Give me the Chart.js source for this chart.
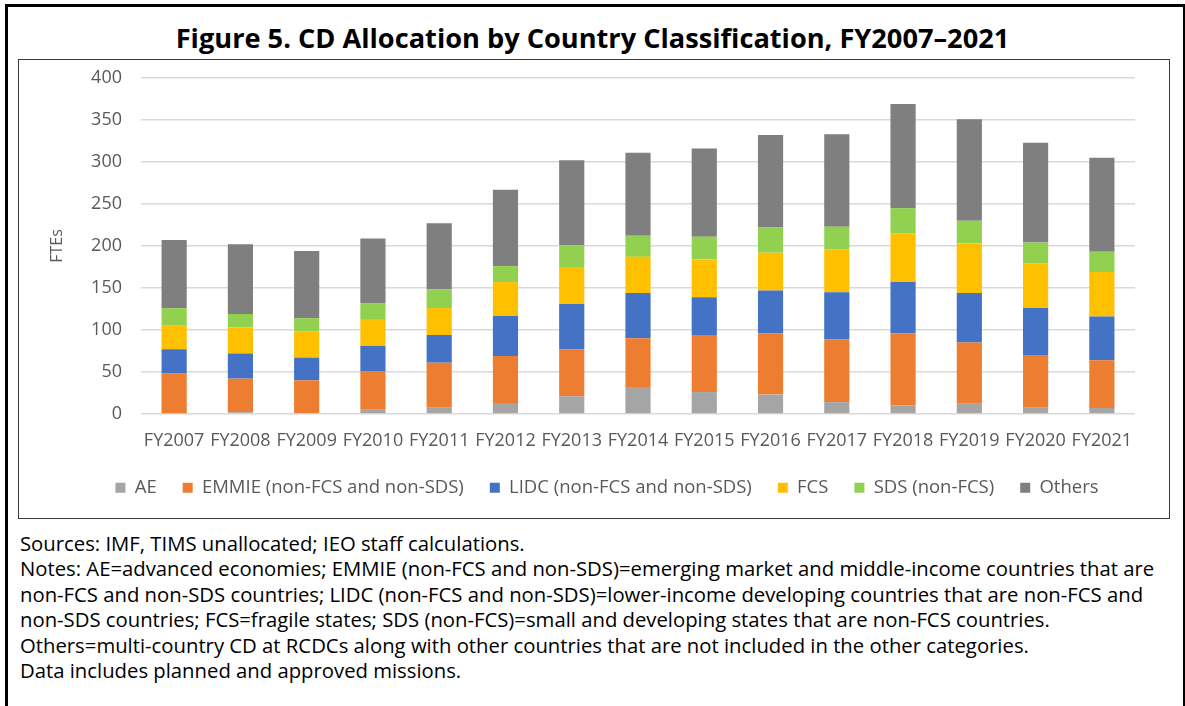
<!DOCTYPE html>
<html>
<head>
<meta charset="utf-8">
<script src="https://cdn.jsdelivr.net/npm/chart.js@4.4.1/dist/chart.umd.min.js"></script>
<style>
  body { margin: 0; background: #fff; font-family: 'Open Sans', sans-serif; }
  #frame { position: absolute; left: 5px; top: 4px; width: 1175px; height: 720px;
           border: 3px solid #000; border-bottom: none; }
  #title { position: absolute; left: 0; top: 19px; width: 1185px; text-align: center;
           font-weight: bold; font-size: 27.2px; line-height: 38px; color: #000; }
  #box { position: absolute; left: 18px; top: 59px; width: 1150px; height: 458px;
         border: 1px solid #3a3a3a; }
  #notes { position: absolute; left: 20px; top: 531px; font-size: 20.3px; line-height: 25.4px;
           color: #000; white-space: nowrap; }
</style>
</head>
<body>
<div id="frame"></div>
<div id="title">Figure 5. CD Allocation by Country Classification, FY2007–2021</div>
<div id="box"><canvas id="chart" width="1150" height="458"></canvas></div>
<div id="notes">
Sources: IMF, TIMS unallocated; IEO staff calculations.<br>
Notes: AE=advanced economies; EMMIE (non-FCS and non-SDS)=emerging market and middle-income countries that are<br>
non-FCS and non-SDS countries; LIDC (non-FCS and non-SDS)=lower-income developing countries that are non-FCS and<br>
non-SDS countries; FCS=fragile states; SDS (non-FCS)=small and developing states that are non-FCS countries.<br>
Others=multi-country CD at RCDCs along with other countries that are not included in the other categories.<br>
Data includes planned and approved missions.
</div>
<script>
// values (FTEs)
const years = ['FY2007', 'FY2008', 'FY2009', 'FY2010', 'FY2011', 'FY2012', 'FY2013', 'FY2014',
               'FY2015', 'FY2016', 'FY2017', 'FY2018', 'FY2019', 'FY2020', 'FY2021'];
const ae     = [0, 2, 0, 5, 8, 13, 21, 32, 26, 23, 14, 10, 12, 8, 7];
const emmie  = [48, 40, 40, 46, 53, 56, 56, 58, 67, 73, 75, 86, 73, 62, 57];
const lidc   = [29, 30, 27, 30, 33, 48, 54, 54, 46, 51, 56, 61, 59, 56, 52];
const fcs    = [28, 31, 31, 31, 32, 40, 43, 43, 45, 45, 51, 58, 59, 53, 53];
const sds    = [21, 16, 16, 20, 22, 19, 27, 25, 27, 30, 27, 30, 27, 25, 24];
const others = [81, 83, 80, 77, 79, 91, 101, 99, 105, 110, 110, 124, 121, 119, 112];

Chart.defaults.font.family = "'Open Sans', sans-serif";
Chart.defaults.color = '#595959';

function series(label, data, color) {
    return { label: label, data: data, backgroundColor: color, borderWidth: 0,
             categoryPercentage: 1, barPercentage: 0.38 };
}

// the legend in the original sits a bit right of the canvas centre
const legendShift = {
    id: 'legendShift',
    afterLayout(chart) {
        chart.legend.left += 30;
        chart.legend.right += 30;
    }
};

new Chart(document.getElementById('chart'), {
    type: 'bar',
    data: {
        labels: years,
        datasets: [
            series('AE', ae, '#a5a5a5'),
            series('EMMIE (non-FCS and non-SDS)', emmie, '#ed7d31'),
            series('LIDC (non-FCS and non-SDS)', lidc, '#4472c4'),
            series('FCS', fcs, '#ffc000'),
            series('SDS (non-FCS)', sds, '#92d050'),
            series('Others', others, '#7f7f7f')
        ]
    },
    plugins: [legendShift],
    options: {
        responsive: false,
        animation: false,
        layout: { padding: { top: 18, right: 34, bottom: 11, left: 0 } },
        plugins: {
            tooltip: { enabled: false },
            legend: {
                position: 'bottom',
                labels: { boxWidth: 10, boxHeight: 10, padding: 26, font: { size: 18.5 }, color: '#595959' }
            }
        },
        scales: {
            x: {
                stacked: true,
                afterFit: (scale) => { scale.height = scale.height - 15; },
                grid: { display: false, drawTicks: false },
                border: { display: false },
                ticks: { padding: 16, font: { size: 18 }, color: '#595959', maxRotation: 0 }
            },
            y: {
                stacked: true,
                min: 0, max: 400,
                afterFit: (scale) => { scale.width = 122; },
                // invisible tick marks give the gap between labels and plot
                grid: { color: '#d9d9d9', lineWidth: 1.5, drawTicks: true, tickLength: 19,
                        tickColor: 'rgba(0,0,0,0)' },
                border: { display: false },
                ticks: { stepSize: 50, padding: 0, font: { size: 18 }, color: '#595959' },
                title: { display: true, text: 'FTEs', font: { size: 16 }, color: '#595959',
                         padding: { top: 29, bottom: 0 } }
            }
        }
    }
});
</script>
</body>
</html>
